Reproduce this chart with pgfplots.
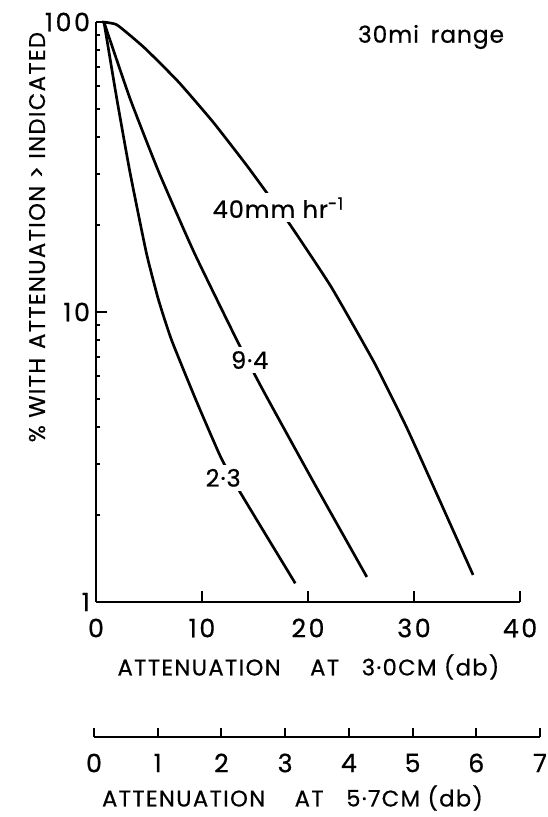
\documentclass[border=0pt]{standalone}
\usepackage{fontspec}
\setmainfont{Poppins}[FakeBold=0.6]
\usepackage{pgfplots}
\pgfplotsset{compat=1.18}

\newcommand{\lbl}{\fontsize{17}{19}\selectfont\addfontfeatures{LetterSpace=6}}
\newcommand{\tkl}{\fontsize{19}{20}\selectfont\addfontfeatures{LetterSpace=10}}
\newcommand{\crv}{\fontsize{18}{20}\selectfont\addfontfeatures{LetterSpace=4}}

\begin{document}
\begin{tikzpicture}[x=0.75pt,y=0.75pt]
% page measured in reference pixels (548 x 817), y upwards
\path[use as bounding box] (0,0) rectangle (548,817);

\begin{axis}[
  scale only axis,
  anchor=south west, at={(72pt,161.25pt)},
  width=318pt, height=435pt,
  xmin=0, xmax=40,
  ymode=log, ymin=1, ymax=100,
  axis x line=bottom, axis y line=left,
  axis line style={-, line width=1.6pt},
  tick align=inside,
  major tick length=8pt, minor tick length=3pt,
  every tick/.style={black, line width=1.4pt},
  xtick={0,10,20,30,40}, xticklabels={0,10,20,30,40},
  ytick={1,10,100}, yticklabels={1,10,100},
  tick label style={font=\tkl},
  xticklabel style={anchor=center, yshift=-19.5pt},
  yticklabel style={anchor=east, xshift=-1pt},
  xlabel={ATTENUATION\hspace{1.3em}AT\hspace{1em}3·0CM (db)},
  ylabel={\% WITH\hspace{0.4em}ATTENUATION > INDICATED},
  label style={font=\lbl},
  xlabel style={at={(axis description cs:0.501,-0.112)}, anchor=center},
  ylabel style={at={(axis description cs:-0.139,0.629)}, anchor=center},
  clip=false,
]
% 2.3 mm/hr
\addplot[black, line width=2pt, smooth, tension=0.3] coordinates {
  (0.75,100) (1.95,54.7) (3.2,30.4) (4.75,16.0) (5.9,11.0) (7.13,8.0)
  (9.43,4.97) (11.8,3.14) (13.6,2.39) (16.3,1.64) (18.8,1.16)
};
% 9.4 mm/hr
\addplot[black, line width=2pt, smooth, tension=0.3] coordinates {
  (0.75,100) (3.19,54.7) (5.92,30.4) (9.27,16.0) (13.29,8.0)
  (15.75,5.38) (20.4,2.64) (25.55,1.22)
};
% 40 mm/hr
\addplot[black, line width=2pt, smooth, tension=0.3] coordinates {
  (0.57,100) (1.98,97.7) (4.58,81.4) (7.79,62.1) (11.04,45.2) (14.2,32.1)
  (16.27,25.3) (18.33,19.95) (22.19,12.2) (26.27,6.67) (29.29,4.01)
  (32.4,2.25) (35.57,1.24)
};
\node[fill=white, inner sep=3pt, font=\crv] at (axis cs:17.2,22.9) {40mm hr\textsuperscript{-1}};
\node[fill=white, inner sep=3pt, font=\crv] at (axis cs:14.5,6.83) {9·4};
\node[fill=white, inner sep=3pt, font=\crv] at (axis cs:12.0,2.68) {2·3};
\end{axis}

\begin{axis}[
  scale only axis,
  anchor=south west, at={(70.5pt,60pt)},
  width=334.5pt, height=1pt,
  xmin=0, xmax=7, ymin=0, ymax=1,
  axis x line=bottom, axis y line=none,
  axis line style={-, line width=1.6pt},
  tick align=inside, major tick length=7pt,
  every tick/.style={black, line width=1.4pt},
  xtick={0,1,2,3,4,5,6,7}, xticklabels={0,1,2,3,4,5,6,7},
  ytick=\empty,
  tick label style={font=\tkl},
  xticklabel style={anchor=center, yshift=-19.5pt},
  xlabel={ATTENUATION\hspace{1.3em}AT\hspace{1em}5·7CM (db)},
  label style={font=\lbl},
  xlabel style={at={(axis description cs:0.445,0)}, anchor=center, yshift=-45.75pt},
  clip=false,
]
\end{axis}

\node[font=\fontsize{17.5}{19}\selectfont\addfontfeatures{LetterSpace=4}] at (431,780) {30mi\hspace{0.5em}range};
\end{tikzpicture}
\end{document}
